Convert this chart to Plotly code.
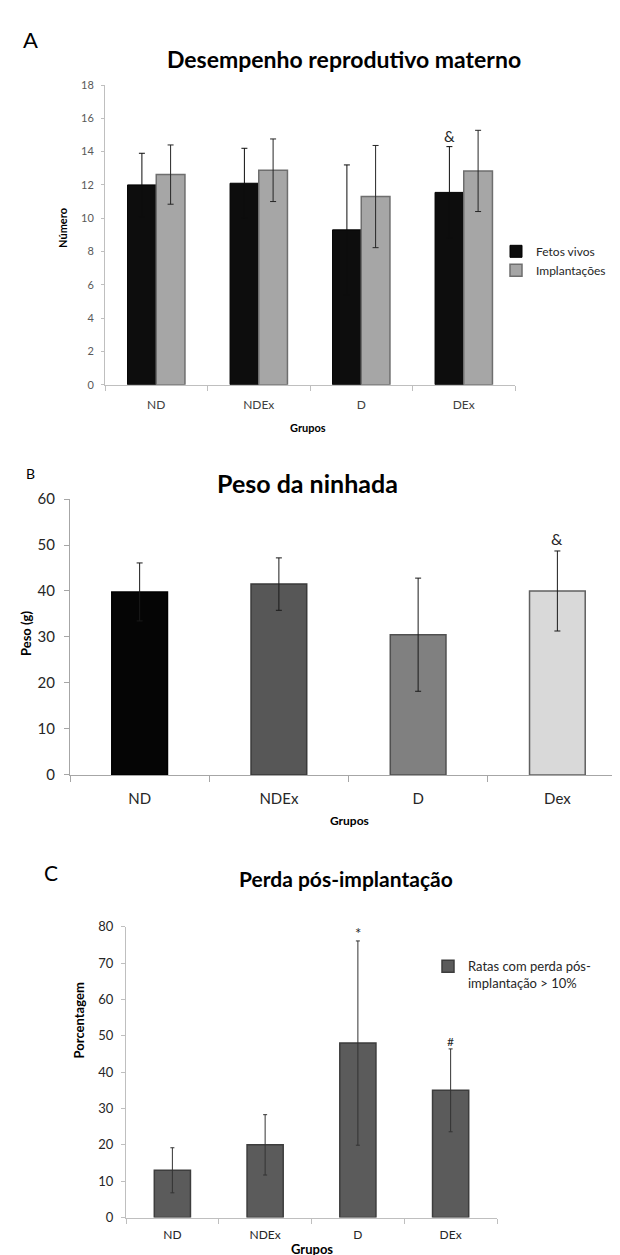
import plotly.graph_objects as go

W, H = 620, 1255

# ---------------- data ----------------
groups_A = ["ND", "NDEx", "D", "DEx"]
fetos_vivos = [12.0, 12.1, 9.3, 11.55]
fetos_vivos_err = [1.9, 2.1, 3.9, 2.75]
implantacoes = [12.62, 12.88, 11.3, 12.84]
implantacoes_err = [1.78, 1.88, 3.07, 2.44]

groups_B = ["ND", "NDEx", "D", "Dex"]
peso_ninhada = [39.8, 41.5, 30.5, 40.0]
peso_ninhada_err = [6.3, 5.7, 12.3, 8.7]
colors_B = ["#050505", "#575757", "#808080", "#d9d9d9"]
lines_B = ["#000000", "#3a3a3a", "#505050", "#606060"]

groups_C = ["ND", "NDEx", "D", "DEx"]
perda_pos = [13.0, 20.0, 48.0, 35.0]
perda_pos_err = [6.2, 8.3, 28.1, 11.4]


def px(x):
    return x / W


def py(y):
    return 1 - y / H


FONT = "Lato"
TICK_COLOR = "#595959"

fig = go.Figure()

# ---------------- Panel A ----------------
fig.add_trace(go.Bar(
    x=groups_A, y=fetos_vivos, name="Fetos vivos",
    error_y=dict(type="data", array=fetos_vivos_err, color="#0d0d0d", thickness=1, width=3),
    marker=dict(color="#0d0d0d", line=dict(color="#000000", width=1)),
    width=0.28, offset=-0.28, xaxis="x", yaxis="y", legend="legend",
))
fig.add_trace(go.Bar(
    x=groups_A, y=implantacoes, name="Implantações",
    error_y=dict(type="data", array=implantacoes_err, color="#262626", thickness=1, width=3),
    marker=dict(color="#a6a6a6", line=dict(color="#6e6e6e", width=1.5)),
    width=0.28, offset=0.0, xaxis="x", yaxis="y", legend="legend",
))

# ---------------- Panel B ----------------
fig.add_trace(go.Bar(
    x=groups_B, y=peso_ninhada, name="Peso da ninhada", showlegend=False,
    error_y=dict(type="data", array=peso_ninhada_err, color="#1a1a1a", thickness=1, width=3),
    marker=dict(color=colors_B, line=dict(color=lines_B, width=1.5)),
    width=0.4, xaxis="x2", yaxis="y2",
))

# ---------------- Panel C ----------------
fig.add_trace(go.Bar(
    x=groups_C, y=perda_pos, name="Ratas com perda pós-<br>implantação > 10%",
    error_y=dict(type="data", array=perda_pos_err, color="#333333", thickness=1, width=2),
    marker=dict(color="#5b5b5b", line=dict(color="#3d3d3d", width=1.5)),
    width=0.39, xaxis="x3", yaxis="y3", legend="legend2",
))


def xax(domain, anchor, color, ticklen, size, standoff, fcolor):
    return dict(domain=domain, anchor=anchor, linecolor=color, tickcolor=color, ticklen=ticklen,
                tickson="boundaries", tickfont=dict(size=size, color=fcolor),
                ticklabelstandoff=standoff, showgrid=False, zeroline=False, showline=True,
                linewidth=1, ticks="outside", tickwidth=1, fixedrange=True)


def yax(domain, anchor, rng, dtick, color, ticklen, size, standoff, fcolor):
    return dict(domain=domain, anchor=anchor, range=rng, dtick=dtick, linecolor=color,
                tickcolor=color, ticklen=ticklen, tickfont=dict(size=size, color=fcolor),
                ticklabelstandoff=standoff, showgrid=False, zeroline=False, showline=True,
                linewidth=1, ticks="outside", tickwidth=1, fixedrange=True)


fig.update_layout(
    width=W, height=H, margin=dict(l=0, r=0, t=0, b=0),
    paper_bgcolor="white", plot_bgcolor="white",
    barmode="overlay",
    font=dict(family=FONT, color="#000000"),
    xaxis=xax([px(97), px(507)], "y", "#bfbfbf", 5, 12, 9, "#404040"),
    yaxis=yax([py(372), py(68)], "x", [0, 18], 2, "#bfbfbf", 3, 11, 5, TICK_COLOR),
    xaxis2=xax([px(62), px(619)], "y2", "#a6a6a6", 6, 15, 10, "#262626"),
    yaxis2=yax([py(768), py(488)], "x2", [0, 60], 10, "#a6a6a6", 5, 15, 6, "#262626"),
    xaxis3=xax([px(118), px(489)], "y3", "#bfbfbf", 5, 12, 6, "#262626"),
    yaxis3=yax([py(1217), py(922)], "x3", [0, 80], 10, "#bfbfbf", 4, 13, 5, "#262626"),
    legend=dict(x=px(488), y=py(222), xanchor="left", yanchor="top",
                font=dict(size=12, color="#262626"), bgcolor="rgba(0,0,0,0)",
                tracegroupgap=0, itemclick=False),
    legend2=dict(x=px(420), y=py(947), xanchor="left", yanchor="top",
                 font=dict(size=13, color="#262626"), bgcolor="rgba(0,0,0,0)",
                 valign="top", itemclick=False),
)

ann = []


def text(x, y, s, size, bold=False, angle=0, color="#000000"):
    ann.append(dict(x=px(x), y=py(y), xref="paper", yref="paper", text=(f"<b>{s}</b>" if bold else s),
                    showarrow=False, textangle=angle, xanchor="center", yanchor="middle",
                    font=dict(size=size, color=color, family=FONT)))


# panel letters and titles
text(22, 22, "A", 22)
text(336, 42, "Desempenho reprodutivo materno", 23, bold=True)
text(22, 462, "B", 14)
text(299, 472, "Peso da ninhada", 25, bold=True)
text(43, 867, "C", 21)
text(338, 873, "Perda pós-implantação", 21, bold=True)

# axis titles
text(55, 213, "Número", 11, bold=True, angle=-90)
text(300, 415, "Grupos", 11, bold=True)
text(18, 625, "Peso (g)", 13, bold=True, angle=-90)
text(341, 814, "Grupos", 12, bold=True)
text(71, 1017, "Porcentagem", 13, bold=True, angle=-90)
text(304, 1249, "Grupos", 13, bold=True)

# significance marks anchored to the data
ann.append(dict(x="DEx", y=fetos_vivos[3] + fetos_vivos_err[3], xref="x", yref="y",
                text="&", showarrow=False, xshift=-14, yanchor="bottom", yshift=0,
                font=dict(size=15, color="#262626", family=FONT)))
ann.append(dict(x="Dex", y=peso_ninhada[3] + peso_ninhada_err[3], xref="x2", yref="y2",
                text="&", showarrow=False, yanchor="bottom", yshift=1,
                font=dict(size=16, color="#262626", family=FONT)))
ann.append(dict(x="D", y=perda_pos[2] + perda_pos_err[2], xref="x3", yref="y3",
                text="*", showarrow=False, yanchor="bottom", yshift=-3,
                font=dict(size=15, color="#262626", family=FONT)))
ann.append(dict(x="DEx", y=perda_pos[3] + perda_pos_err[3], xref="x3", yref="y3",
                text="#", showarrow=False, yanchor="bottom", yshift=-2,
                font=dict(size=12, color="#262626", family=FONT)))

fig.update_layout(annotations=ann)

fig.write_html("out.html")
